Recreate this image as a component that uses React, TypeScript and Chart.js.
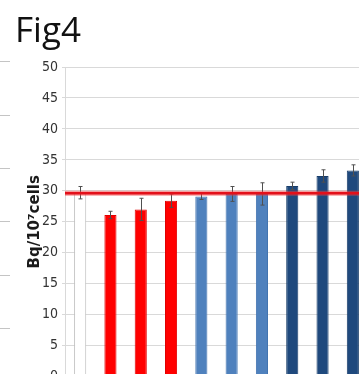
import React, { useEffect, useRef } from "react";
import { Chart, registerables } from "chart.js";

Chart.register(...registerables);

// ---- data ----
const categories = ["C", "R1", "R2", "R3", "L1", "L2", "L3", "D1", "D2", "D3"];
const values = [29.7, 26.1, 27.0, 28.4, 29.1, 29.5, 29.5, 30.8, 32.4, 33.3];
const errors = [1.0, 0.6, 1.8, 1.1, 0.5, 1.2, 1.8, 0.6, 1.0, 0.9];
const fillColors = ["#ffffff", "#ff0000", "#ff0000", "#ff0000", "#4f81bd", "#4f81bd", "#4f81bd", "#1f497d", "#1f497d", "#1f497d"];
const edgeColors = ["#bfbfbf", "#e00000", "#e00000", "#e00000", "#4374b0", "#4374b0", "#4374b0", "#183d6a", "#183d6a", "#183d6a"];
const referenceValue = 29.6;
const yTicks = [0, 5, 10, 15, 20, 25, 30, 35, 40, 45, 50];
const neighborTicks = [10, 20, 30, 40, 50, 60];
const titleText = "Fig4";
const yTitle = "Bq/10\u2077cells";

const errorBarPlugin = {
  id: "errorBars",
  afterDatasetsDraw(chart: any) {
    const ctx = chart.ctx;
    const y = chart.scales.y;
    const meta = chart.getDatasetMeta(0);
    ctx.save();
    ctx.strokeStyle = "#505050";
    ctx.lineWidth = 1;
    meta.data.forEach((bar: any, i: number) => {
      const x = Math.round(bar.x) + 0.5;
      const top = y.getPixelForValue(values[i] + errors[i]);
      const bot = y.getPixelForValue(values[i] - errors[i]);
      ctx.beginPath();
      ctx.moveTo(x, top);
      ctx.lineTo(x, bot);
      ctx.moveTo(x - 2, top);
      ctx.lineTo(x + 2, top);
      ctx.moveTo(x - 2, bot);
      ctx.lineTo(x + 2, bot);
      ctx.stroke();
    });
    // reference line
    const ry = y.getPixelForValue(referenceValue);
    ctx.strokeStyle = "rgba(240,60,60,0.5)";
    ctx.lineWidth = 5;
    ctx.beginPath();
    ctx.moveTo(chart.chartArea.left, ry);
    ctx.lineTo(chart.chartArea.right, ry);
    ctx.stroke();
    ctx.strokeStyle = "#e3101a";
    ctx.lineWidth = 2.5;
    ctx.beginPath();
    ctx.moveTo(chart.chartArea.left, ry);
    ctx.lineTo(chart.chartArea.right, ry);
    ctx.stroke();
    ctx.restore();
  },
};

export default function App() {
  const ref = useRef<HTMLCanvasElement>(null);
  useEffect(() => {
    if (!ref.current) return;
    const chart = new Chart(ref.current, {
      type: "bar",
      data: {
        labels: categories,
        datasets: [
          {
            data: values,
            backgroundColor: fillColors,
            borderColor: edgeColors,
            borderWidth: 1,
            categoryPercentage: 1,
            barPercentage: 0.4,
          },
        ],
      },
      options: {
        responsive: false,
        animation: false,
        devicePixelRatio: 1,
        layout: { padding: { top: 67, left: 0, right: 0, bottom: 0 } },
        plugins: { legend: { display: false }, tooltip: { enabled: false } },
        scales: {
          x: { display: false, offset: true },
          y: {
            position: "left",
            weight: 0,
            min: 0,
            max: 50,
            afterBuildTicks: (s: any) => {
              s.ticks = yTicks.map((v) => ({ value: v }));
            },
            afterFit: (s: any) => {
              s.width = 55;
            },
            grid: { color: "#d9d9d9", lineWidth: 1, tickLength: 3 },
            border: { display: true, color: "#d9d9d9" },
            ticks: {
              padding: 4,
              color: "#333333",
              font: { family: "'Liberation Sans Narrow', 'DejaVu Sans Condensed', sans-serif", size: 14 },
            },
            title: {
              display: true,
              text: yTitle,
              color: "#1a1a1a",
              padding: { top: 16, bottom: 0 },
              font: { family: "'DejaVu Sans', sans-serif", size: 15, weight: "bold" },
            },
          },
          y2: {
            position: "left",
            weight: 1,
            min: 1,
            max: 59,
            afterBuildTicks: (s: any) => {
              s.ticks = neighborTicks.map((v) => ({ value: v }));
            },
            afterFit: (s: any) => {
              s.width = 10;
            },
            ticks: { display: false },
            grid: { drawOnChartArea: false, drawTicks: true, tickLength: 10, color: "#c4c4c4" },
            border: { display: false },
          },
        },
      },
      plugins: [errorBarPlugin],
    } as any);
    return () => chart.destroy();
  }, []);

  return (
    <div style={{ position: "fixed", left: 0, top: 0, width: 359, height: 374, overflow: "hidden", background: "#fff" }}>
      <canvas ref={ref} width={368} height={389} style={{ position: "absolute", left: 0, top: 0, width: 368, height: 389 }} />
      <div
        style={{
          position: "absolute",
          left: 15,
          top: 11,
          fontFamily: "'Open Sans', sans-serif",
          fontSize: 35,
          lineHeight: 1,
          color: "#111",
        }}
      >
        {titleText}
      </div>
    </div>
  );
}
